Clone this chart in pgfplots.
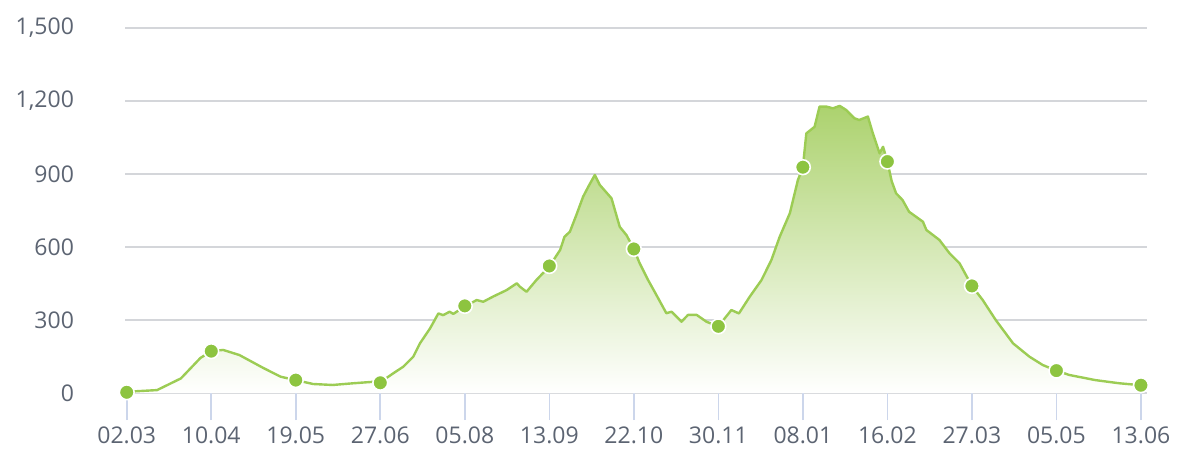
\documentclass[border=0pt]{standalone}
\usepackage{fontspec}
\setmainfont{Open Sans}
\usepackage{pgfplots}
\pgfplotsset{compat=1.18}
\definecolor{LineGreen}{RGB}{156,204,84}
\definecolor{MarkGreen}{RGB}{141,196,64}
\definecolor{FillGreen}{RGB}{172,210,110}
\definecolor{LabelGray}{RGB}{92,100,114}
\definecolor{GridGray}{RGB}{212,214,218}
\definecolor{TickBlue}{RGB}{204,214,235}

\begin{document}
\begin{tikzpicture}
  \useasboundingbox (0,0) rectangle (592pt,226pt);
  \begin{axis}[
    at={(62.5pt,29.5pt)}, anchor=south west,
    scale only axis,
    width=511pt, height=182.5pt,
    xmin=-0.8, xmax=470.8,
    ymin=0, ymax=1500,
    axis line style={draw=none},
    xtick pos=bottom, ytick pos=left,
    xtick={0,39,78,117,156,195,234,273,312,351,390,429,468},
    xticklabels={02.03,10.04,19.05,27.06,05.08,13.09,22.10,30.11,08.01,16.02,27.03,05.05,13.06},
    ytick={0,300,600,900,1200,1500},
    yticklabels={0,300,600,900,{1,200},{1,500}},
    ymajorgrids,
    grid style={GridGray, line width=1pt},
    tick align=outside,
    major tick length=13.5pt,
    xtick style={TickBlue, line width=0.8pt},
    ytick style={draw=none},
    tick label style={font=\fontsize{11.5}{13}\selectfont, text=LabelGray},
    yticklabel style={xshift=-8.5pt},
    clip=false,
  ]
    % shaded area under the curve
    \addplot[draw=none, top color=FillGreen, bottom color=white] coordinates {
      (0,5) (14,12) (25,60) (34,144) (39,172) (44.5,177) (52,156) (63,103)
      (71,67) (78,53) (86,37) (95,33) (104.5,40) (113.6,46) (117,44)
      (123,81) (127.6,108) (132.2,149) (135.3,204) (140,266) (143.8,327)
      (146,320) (149,334) (150.7,325) (156,356) (161.5,382) (164.5,375)
      (169,396) (175.3,423) (180,451) (181.4,437) (184.5,416) (189,464)
      (195,520) (200,588) (202,642) (204.5,663) (207.5,732) (210.6,807)
      (213,848) (216,896) (218.3,855) (223.7,800) (227.5,683) (230.6,649)
      (234,592) (236.7,533) (240.6,464) (244.4,403) (249,328) (251.4,334)
      (256,293) (259,321) (263,321) (267.5,293) (273,274) (279,341)
      (282.5,327) (287.5,396) (292.9,464) (297.5,547) (301.3,642) (306,739)
      (309.7,875) (312,928) (313.6,1067) (317.4,1094) (319.7,1177) (322.8,1177)
      (325.9,1170) (329,1180) (332,1163) (335.8,1129) (338,1122) (342,1136)
      (344.3,1067) (347.4,985) (349,1012) (351,951) (353,870) (355,821)
      (358,793) (361,745) (367.4,704) (369,670) (375,629) (379.7,574)
      (384.3,533) (390,440) (395,382) (401,300) (409,204) (416.6,149)
      (422.7,115) (429,92) (435,74) (447,53) (458,40) (468,32)
    } \closedcycle;
    % the line
    \addplot[LineGreen, line width=1.2pt, no marks, line join=round] coordinates {
      (0,5) (14,12) (25,60) (34,144) (39,172) (44.5,177) (52,156) (63,103)
      (71,67) (78,53) (86,37) (95,33) (104.5,40) (113.6,46) (117,44)
      (123,81) (127.6,108) (132.2,149) (135.3,204) (140,266) (143.8,327)
      (146,320) (149,334) (150.7,325) (156,356) (161.5,382) (164.5,375)
      (169,396) (175.3,423) (180,451) (181.4,437) (184.5,416) (189,464)
      (195,520) (200,588) (202,642) (204.5,663) (207.5,732) (210.6,807)
      (213,848) (216,896) (218.3,855) (223.7,800) (227.5,683) (230.6,649)
      (234,592) (236.7,533) (240.6,464) (244.4,403) (249,328) (251.4,334)
      (256,293) (259,321) (263,321) (267.5,293) (273,274) (279,341)
      (282.5,327) (287.5,396) (292.9,464) (297.5,547) (301.3,642) (306,739)
      (309.7,875) (312,928) (313.6,1067) (317.4,1094) (319.7,1177) (322.8,1177)
      (325.9,1170) (329,1180) (332,1163) (335.8,1129) (338,1122) (342,1136)
      (344.3,1067) (347.4,985) (349,1012) (351,951) (353,870) (355,821)
      (358,793) (361,745) (367.4,704) (369,670) (375,629) (379.7,574)
      (384.3,533) (390,440) (395,382) (401,300) (409,204) (416.6,149)
      (422.7,115) (429,92) (435,74) (447,53) (458,40) (468,32)
    };
    % markers at tick dates
    \addplot[only marks, mark=*, mark size=3.7pt,
      mark options={fill=MarkGreen, draw=white, line width=0.8pt}] coordinates {
      (0,3) (39,172) (78,53) (117,42) (156,358) (195,522) (234,592)
      (273,274) (312,928) (351,951) (390,440) (429,92) (468,32)
    };
  \end{axis}
\end{tikzpicture}
\end{document}
